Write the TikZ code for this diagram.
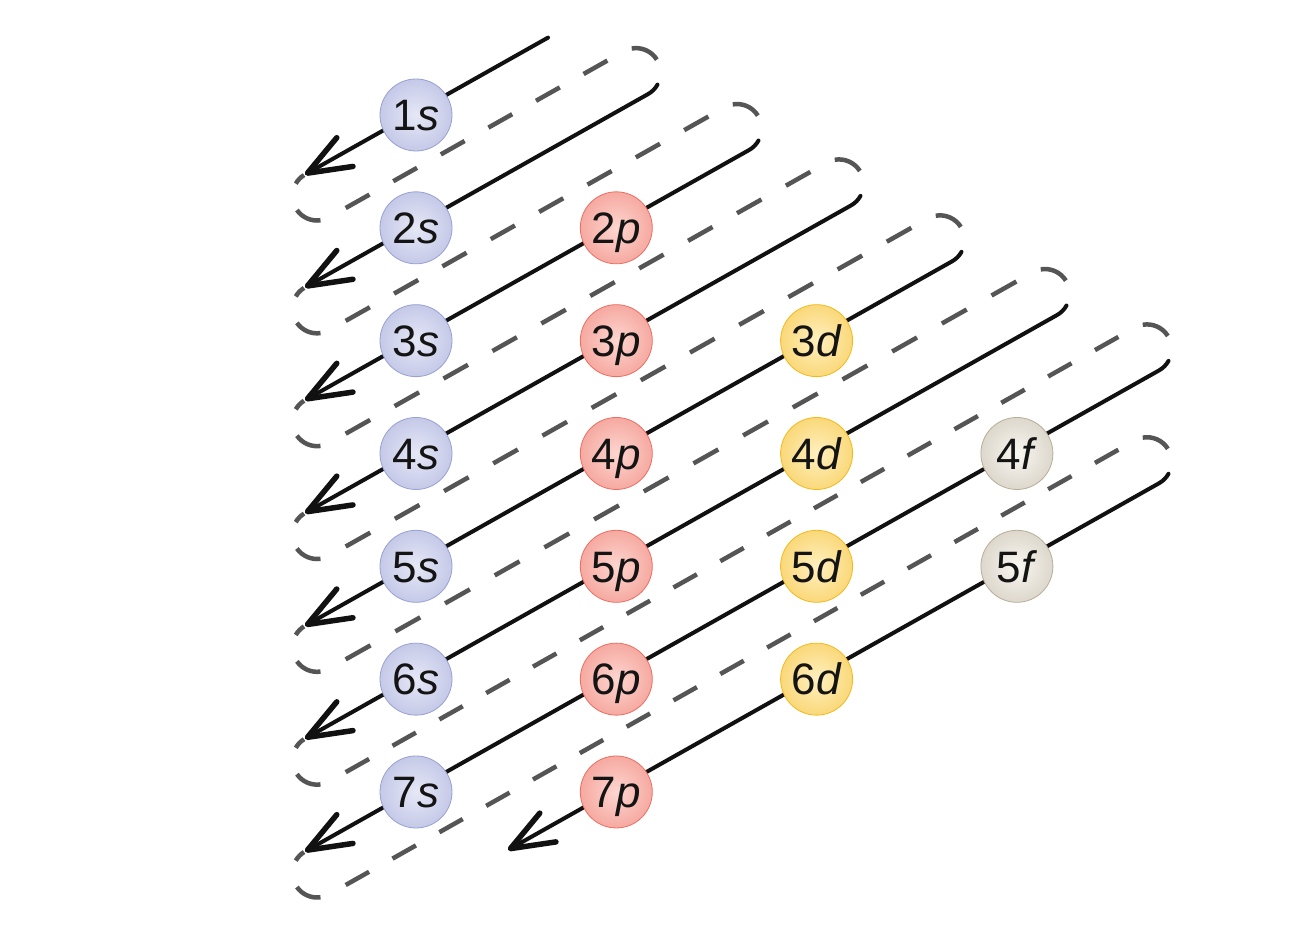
\documentclass[tikz,border=0pt]{standalone}
\usepackage{fontspec}
\setmainfont{Liberation Sans}
\usetikzlibrary{arrows.meta,calc}
\definecolor{sIn}{HTML}{E6E8F6}\definecolor{sOut}{HTML}{98A0D4}
\definecolor{pIn}{HTML}{FDD6D0}\definecolor{pOut}{HTML}{EB6E62}
\definecolor{dIn}{HTML}{FFF0C0}\definecolor{dOut}{HTML}{F3B91C}
\definecolor{fIn}{HTML}{F9F7F2}\definecolor{fOut}{HTML}{B8AD99}
\definecolor{dashc}{HTML}{555555}
\definecolor{linec}{HTML}{111111}
\pgfdeclareradialshading{sball}{\pgfpointorigin}{color(0bp)=(sIn); color(32bp)=(sIn!45!sOut); color(50bp)=(sOut)}
\pgfdeclareradialshading{pball}{\pgfpointorigin}{color(0bp)=(pIn); color(32bp)=(pIn!45!pOut); color(50bp)=(pOut)}
\pgfdeclareradialshading{dball}{\pgfpointorigin}{color(0bp)=(dIn); color(32bp)=(dIn!45!dOut); color(50bp)=(dOut)}
\pgfdeclareradialshading{fball}{\pgfpointorigin}{color(0bp)=(fIn); color(32bp)=(fIn!45!fOut); color(50bp)=(fOut)}
\tikzset{
  orb/.style={circle, minimum size=72pt, inner sep=0pt, text height=31.6pt, text depth=0pt, font=\fontsize{44pt}{44pt}\selectfont, text=black!92, line width=0.8pt, shade},
  sorb/.style={orb, shading=sball, draw=sOut},
  porb/.style={orb, shading=pball, draw=pOut},
  dorb/.style={orb, shading=dball, draw=dOut},
  forb/.style={orb, shading=fball, draw=fOut},
  arrowline/.style={draw=linec, line width=4pt, line cap=round, -{Straight Barb[length=43pt, width=33pt, line width=5.5pt, round]}},
  dashline/.style={draw=dashc, line width=4.5pt, line cap=butt},
}
\begin{document}
\begin{tikzpicture}[x=1pt,y=1pt,line join=round]
\useasboundingbox (0,0) rectangle (1300,939);
\fill[white] (0,0) rectangle (1300,939);
\def\sl{0.5633}
\def\dyy{112.83}
\def\R{24.58}
% arrow tips
\foreach \k in {1,...,8}{
  \pgfmathsetmacro{\tx}{\k<8 ? 305 : 508}
  \pgfmathsetmacro{\ty}{827-\dyy*(\k-1)+\sl*(\tx-416)}
  \coordinate (tp\k) at (\tx,\ty);
}
% start of line 1
\coordinate (st1) at (548,{827+\sl*(548-416)});
% centres of the upper turns
\foreach \k/\cx in {1/636,2/737,3/839,4/940,5/1045,6/1147,7/1147}{
  \pgfmathsetmacro{\fx}{\cx+12.064}
  \pgfmathsetmacro{\fy}{827-\dyy*\k+\sl*(\fx-416)+21.416}
  \coordinate (cc\k) at (\cx,\fy);
}
% dashed return paths
\foreach \k/\cx in {1/636,2/737,3/839,4/940,5/1045,6/1147,7/1147}{
  \pgfmathsetmacro{\len}{(\cx-341.192)/0.87126}
  \pgfmathsetmacro{\nd}{round((\len-38)/55+0.5)}
  \pgfmathsetmacro{\hp}{(\len-38)/(2*\nd-1)}
  \pgfmathsetmacro{\ph}{2*\hp-19}
  \coordinate (lc\k) at ($(tp\k)+(12.064,-21.416)$);
  \draw[dashline] ($(lc\k)+(150:\R pt)$) arc[start angle=150,end angle=122,radius=\R pt];
  \draw[dashline] ($(lc\k)+(215:\R pt)$) arc[start angle=215,end angle=278,radius=\R pt];
  \draw[dashline, dash pattern=on \hp pt off \hp pt, dash phase=\ph pt]
     ($(tp\k)+(24.128,-42.832)$) -- ($(cc\k)+(-12.064,21.416)$);
  \draw[dashline] ($(cc\k)+(100:\R pt)$) arc[start angle=100,end angle=32,radius=\R pt];
}
% solid arrows
\draw[arrowline] (st1) -- (tp1);
\foreach \j [evaluate=\j as \k using int(\j+1)] in {1,...,7}{
  \draw[arrowline] ($(cc\j)+(-29:\R pt)$) arc[start angle=-29,end angle=-60.61,radius=\R pt] -- (tp\k);
}
% orbitals
\foreach \n in {1,...,7}
  \node[sorb] (s\n) at (416,{824-112.83*(\n-1)}) {\n\textit{s}};
\foreach \n in {2,...,7}
  \node[porb] (p\n) at (616.3,{824-112.83*(\n-1)}) {\n\textit{p}};
\foreach \n in {3,...,6}
  \node[dorb] (d\n) at (816.6,{824-112.83*(\n-1)}) {\n\textit{d}};
\foreach \n in {4,5}
  \node[forb] (f\n) at (1016.9,{824-112.83*(\n-1)}) {\n\textit{f}};
\end{tikzpicture}
\end{document}
